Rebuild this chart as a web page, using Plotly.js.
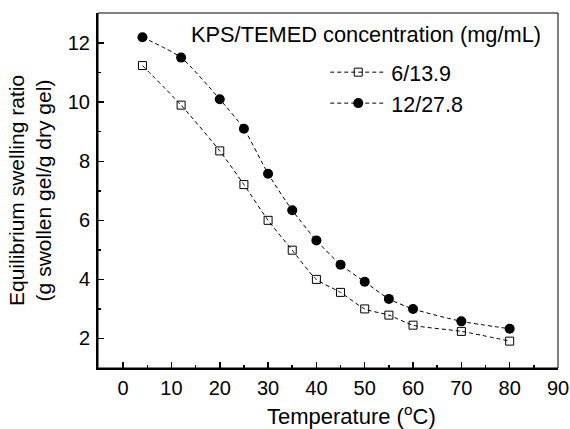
<!DOCTYPE html>
<html>
<head>
<meta charset="utf-8">
<script src="https://cdn.plot.ly/plotly-3.0.1.min.js"></script>
<style>html,body{margin:0;padding:0;background:#fff}#chart{width:570px;height:429px}</style>
</head>
<body>
<div id="chart"></div>
<script>
const temperature = [4, 12, 20, 25, 30, 35, 40, 45, 50, 55, 60, 70, 80];
const ratioLow = [11.24, 9.9, 8.35, 7.21, 6.0, 4.99, 4.0, 3.56, 3.0, 2.79, 2.45, 2.24, 1.91];
const ratioHigh = [12.2, 11.51, 10.1, 9.1, 7.58, 6.34, 5.32, 4.5, 3.92, 3.34, 3.0, 2.58, 2.33];
const seriesNames = ["6/13.9", "12/27.8"];
const xTicks = [0, 10, 20, 30, 40, 50, 60, 70, 80, 90];
const yTicks = [2, 4, 6, 8, 10, 12];

const FONT = "Liberation Sans, Arial, Helvetica, sans-serif";

const traces = [
  {
    x: temperature, y: ratioLow, name: seriesNames[0], type: "scatter", mode: "lines+markers",
    line: {color: "#000", width: 1, dash: "4px,3px", shape: "spline", smoothing: 0.6},
    marker: {symbol: "square-open", size: 8, color: "#000", line: {width: 1, color: "#000"}}
  },
  {
    x: temperature, y: ratioHigh, name: seriesNames[1], type: "scatter", mode: "lines+markers",
    line: {color: "#000", width: 1, dash: "4px,3px", shape: "spline", smoothing: 0.6},
    marker: {symbol: "circle", size: 10, color: "#000"}
  }
];

const layout = {
  width: 570, height: 429,
  margin: {l: 98, r: 12, t: 13, b: 61, pad: 0},
  paper_bgcolor: "#fff", plot_bgcolor: "#fff",
  font: {family: FONT, size: 20, color: "#000"},
  showlegend: true,
  legend: {
    x: 0.494, y: 0.891, xanchor: "left", yanchor: "top",
    bgcolor: "rgba(0,0,0,0)", borderwidth: 0,
    font: {family: FONT, size: 21.5, color: "#000"},
    itemwidth: 56, tracegroupgap: 0
  },
  xaxis: {
    range: [-5.2, 90], tickvals: xTicks, ticktext: xTicks.map(String),
    ticks: "inside", ticklen: 6, tickwidth: 1.5, tickcolor: "#000",
    minor: {dtick: 5, tick0: 0, ticks: "inside", ticklen: 3, tickwidth: 1.5, tickcolor: "#000", showgrid: false},
    showline: true, linecolor: "#000", linewidth: 2, mirror: false,
    showgrid: false, zeroline: false,
    ticklabelstandoff: 1,
    tickfont: {family: FONT, size: 20, color: "#000"}
  },
  yaxis: {
    range: [1, 13.02], tickvals: yTicks, ticktext: yTicks.map(String),
    ticks: "inside", ticklen: 6, tickwidth: 1.5, tickcolor: "#000",
    minor: {dtick: 1, tick0: 1, ticks: "inside", ticklen: 3, tickwidth: 1.5, tickcolor: "#000", showgrid: false},
    showline: true, linecolor: "#000", linewidth: 2, mirror: false,
    showgrid: false, zeroline: false,
    ticklabelstandoff: 2,
    tickfont: {family: FONT, size: 20, color: "#000"},
    title: {text: "Equilibrium swelling ratio<br>(g swollen gel/g dry gel)", font: {family: FONT, size: 21, color: "#000"}, standoff: 10}
  },
  shapes: [
    {type: "rect", xref: "paper", yref: "paper", x0: 0, x1: 1, y0: 0, y1: 1, line: {color: "#000", width: 1}, layer: "above"}
  ],
  annotations: [
    {text: "KPS/TEMED concentration (mg/mL)", xref: "paper", yref: "paper", x: 0.198, y: 0.94,
     xanchor: "left", yanchor: "middle", showarrow: false, font: {family: FONT, size: 21.8, color: "#000"}},
    {text: "Temperature (<sup>o</sup>C)", xref: "paper", yref: "paper", x: 0.551, y: -0.131,
     xanchor: "center", yanchor: "middle", showarrow: false, font: {family: FONT, size: 22, color: "#000"}}
  ]
};

Plotly.newPlot("chart", traces, layout, {displayModeBar: false, staticPlot: true});
</script>
</body>
</html>
